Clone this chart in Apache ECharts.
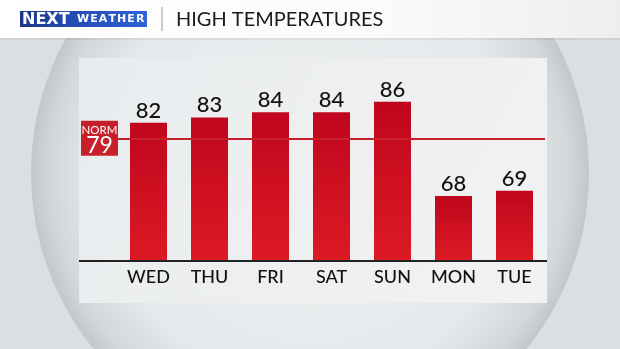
<!DOCTYPE html>
<html>
<head>
<meta charset="utf-8">
<script src="https://cdn.jsdelivr.net/npm/echarts@6/dist/echarts.min.js"></script>
<style>
html,body{margin:0;padding:0;background:#dadfe1;}
#chart{width:620px;height:349px;}
</style>
</head>
<body>
<div id="chart"></div>
<script>
var days = ['WED', 'THU', 'FRI', 'SAT', 'SUN', 'MON', 'TUE'];
var highs = [82, 83, 84, 84, 86, 68, 69];
var normValue = 79;
var titleText = 'HIGH TEMPERATURES';

var chart = echarts.init(document.getElementById('chart'), null, {renderer: 'canvas'});
var FONT = 'Lato';

var option = {
  backgroundColor: '#dadfe1',
  animation: false,
  grid: {left: 118, right: 75, top: 54.5, bottom: 88},
  xAxis: {
    type: 'category',
    data: days,
    axisLine: {show: false},
    axisTick: {show: false},
    axisLabel: {
      color: '#111', fontFamily: FONT, fontSize: 18, margin: 7, fontWeight: 500
    }
  },
  yAxis: {
    type: 'value', min: 55.6, max: 95, show: false,
    splitLine: {show: false}
  },
  graphic: [
    {type: 'circle', z: -10, shape: {cx: 310, cy: 173, r: 279},
      style: {fill: new echarts.graphic.RadialGradient(0.5, 0.5, 0.5, [
        {offset: 0, color: '#eef0f1'},
        {offset: 0.75, color: '#e6e9eb'},
        {offset: 0.93, color: '#d3d7da'},
        {offset: 1, color: '#c3c7ca'}
      ])}},
    {type: 'rect', z: -9, shape: {x: 0, y: 0, width: 620, height: 38},
      style: {fill: new echarts.graphic.LinearGradient(0, 0, 1, 0, [
        {offset: 0, color: '#ffffff'}, {offset: 0.6, color: '#fbfbfb'}, {offset: 1, color: '#eeeeee'}
      ])}},
    {type: 'rect', z: -9, shape: {x: 0, y: 38, width: 620, height: 2},
      style: {fill: 'rgba(0,0,0,0.06)'}},
    {type: 'rect', z: -8, shape: {x: 79, y: 58, width: 468, height: 245},
      style: {fill: new echarts.graphic.LinearGradient(0, 0, 1, 1, [
        {offset: 0, color: '#e9ecee'}, {offset: 1, color: '#f1f2f3'}
      ])}},
    {type: 'rect', z: 1, shape: {x: 20, y: 11, width: 127, height: 16},
      style: {fill: new echarts.graphic.LinearGradient(0, 0, 1, 0, [
        {offset: 0, color: '#1b3686'}, {offset: 0.35, color: '#2449b0'}, {offset: 1, color: '#2f62d8'}
      ])}},
    {type: 'text', z: 2, x: 22, y: 19.5,
      style: {text: 'NEXT', fill: '#fff', font: 'bold 16px "DejaVu Sans"', verticalAlign: 'middle'}},
    {type: 'text', z: 2, x: 77, y: 19.5,
      style: {text: 'W\u200AE\u200AA\u200AT\u200AH\u200AE\u200AR', fill: '#fff', font: '600 11px "DejaVu Sans"', verticalAlign: 'middle'}},
    {type: 'rect', z: 1, shape: {x: 161.5, y: 7, width: 1, height: 24},
      style: {fill: '#9a9a9a'}},
    {type: 'text', z: 2, x: 176, y: 20,
      style: {text: titleText, fill: '#1a1a1a', font: '20px "Lato"', verticalAlign: 'middle'}},
    {type: 'rect', z: 20, shape: {x: 79, y: 260, width: 468, height: 2},
      style: {fill: '#222'}}
  ],
  series: [{
    type: 'line',
    data: [],
    z: 1,
    markLine: {
      silent: true,
      symbol: 'none',
      lineStyle: {color: '#c8202a', width: 2, type: 'solid'},
      data: [{yAxis: normValue}],
      label: {
        position: 'start',
        distance: 0,
        formatter: '{a|NORM}\n{b|' + normValue + '}',
        backgroundColor: '#c8202a',
        padding: [3, 0, 1, 0],
        rich: {
          a: {color: '#fff', fontFamily: FONT, fontSize: 11.5, lineHeight: 12, align: 'center', width: 37},
          b: {color: '#fff', fontFamily: FONT, fontSize: 23, lineHeight: 19, align: 'center', width: 37}
        }
      }
    }
  }, {
    type: 'bar',
    data: highs,
    barWidth: 37,
    z: 3,
    itemStyle: {
      color: new echarts.graphic.LinearGradient(0, 0, 0, 1, [
        {offset: 0, color: '#c0061e'}, {offset: 1, color: '#dc1a24'}
      ])
    },
    label: {
      show: true, position: 'top', distance: 1,
      color: '#111', fontFamily: FONT, fontSize: 22, fontWeight: 500
    }
  }]
};
chart.setOption(option);
</script>
</body>
</html>
